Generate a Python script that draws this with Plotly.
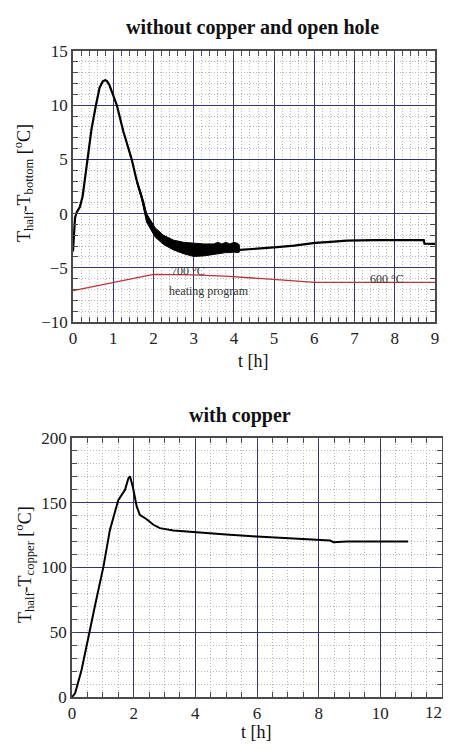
import plotly.graph_objects as go

# ---- top chart: without copper and open hole ----
t_top = [0.0, 0.02, 0.05, 0.09, 0.13, 0.17, 0.24, 0.30, 0.36, 0.46, 0.57, 0.66, 0.74, 0.80, 0.84, 0.90,
         0.97, 1.09, 1.25, 1.46, 1.58, 1.67, 1.75, 1.83, 2.04, 2.25, 2.5, 2.75, 3.0, 3.25, 3.5, 3.75,
         4.0, 4.15, 4.6, 5.07, 5.5, 6.02, 6.4, 6.8, 7.5, 8.0, 8.72, 8.74, 9.0]
v_top = [-3.5, -2.0, -0.4, 0.1, 0.35, 0.6, 1.6, 3.3, 5.0, 7.8, 10.0, 11.6, 12.2, 12.3, 12.25, 11.9,
         11.2, 10.0, 7.6, 5.0, 3.1, 2.0, 1.0, -0.4, -1.7, -2.4, -2.9, -3.2, -3.35, -3.35, -3.3, -3.25,
         -3.2, -3.35, -3.25, -3.1, -2.95, -2.7, -2.6, -2.5, -2.45, -2.45, -2.45, -2.78, -2.8]

t_band = [1.58, 1.70, 1.83, 2.04, 2.25, 2.5, 2.75, 3.0, 3.25, 3.5, 3.6, 3.7, 3.8, 3.9, 4.0, 4.1, 4.15]
band_hi = [3.2, 1.8, 0.0, -1.3, -2.0, -2.45, -2.65, -2.75, -2.8, -2.8, -2.65, -2.8, -2.65, -2.8, -2.65, -2.75, -2.95]
band_lo = [2.9, 1.4, -0.8, -2.15, -2.85, -3.35, -3.7, -3.95, -3.9, -3.75, -3.7, -3.65, -3.6, -3.6, -3.55, -3.6, -3.5]

t_prog = [0.0, 2.0, 3.0, 3.9, 4.9, 5.9, 6.0, 9.0]
v_prog = [-7.1, -5.6, -5.65, -5.8, -6.05, -6.3, -6.35, -6.35]

# ---- bottom chart: with copper ----
t_cu = [0.0, 0.1, 0.31, 0.58, 0.75, 1.02, 1.23, 1.5, 1.72, 1.83, 1.88, 1.97, 2.1, 2.2, 2.42, 2.64,
        2.85, 3.29, 3.93, 4.37, 5.0, 5.99, 7.0, 7.94, 8.37, 8.48, 8.9, 10.0, 10.9]
v_cu = [0.0, 2.8, 20.8, 50.0, 71.0, 100.7, 129.0, 152.0, 160.0, 169.0, 170.4, 162.5, 147.0, 140.6,
        137.3, 133.0, 130.4, 128.5, 127.3, 126.2, 125.5, 123.9, 122.6, 121.3, 120.8, 119.5, 120.0,
        120.0, 120.0]
x2_ticks = [0, 2, 4, 6, 8, 10, 12]

FONT = "Liberation Serif"
MAJOR = "#34346e"
MINOR = "#b8b8b8"

# the page body has an 8px margin: lay the figure out in window pixels,
# keeping the page no taller than the window (no scrollbar)
OFF = 8
W, H = 451 - OFF, 749 - 2 * OFF
def px(x):
    return (x - OFF) / W
def py(y):
    return 1 - (y - OFF) / H

fig = go.Figure()
fig.add_trace(go.Scatter(x=t_prog, y=v_prog, mode="lines", line=dict(color="#b83436", width=1.3),
                         xaxis="x", yaxis="y", showlegend=False))
fig.add_trace(go.Scatter(x=t_band, y=band_lo, mode="lines", line=dict(color="black", width=1),
                         xaxis="x", yaxis="y", showlegend=False))
fig.add_trace(go.Scatter(x=t_band, y=band_hi, mode="lines", line=dict(color="black", width=1),
                         fill="tonexty", fillcolor="black", xaxis="x", yaxis="y", showlegend=False))
fig.add_trace(go.Scatter(x=t_top, y=v_top, mode="lines", line=dict(color="black", width=2.2),
                         xaxis="x", yaxis="y", showlegend=False))
fig.add_trace(go.Scatter(x=t_cu, y=v_cu, mode="lines", line=dict(color="black", width=2),
                         xaxis="x2", yaxis="y2", showlegend=False))

TICKFONT = dict(family=FONT, size=17, color="#222222")

def ax(domain, rng, dtick, mdtick, anchor):
    return dict(domain=domain, range=rng, dtick=dtick, tick0=0, anchor=anchor, automargin=False,
                showline=True, linecolor="#4a4a4a", linewidth=1.5, mirror="ticks",
                ticks="inside", ticklen=5, tickcolor="#4a4a4a", ticklabeloverflow="allow",
                showgrid=True, gridcolor=MAJOR, gridwidth=1, zeroline=False,
                tickfont=TICKFONT,
                minor=dict(dtick=mdtick, tick0=0, showgrid=True, gridcolor=MINOR, griddash="1px,2px",
                           gridwidth=1, ticks="inside", ticklen=5, tickcolor="#4a4a4a"))

xa2 = ax([px(72), px(442)], [0, 12], 2, 0.5, "y2")
xa2.update(tickmode="array", tickvals=x2_ticks[:-1], ticktext=[str(v) for v in x2_ticks[:-1]])

fig.update_layout(
    width=W, height=H, margin=dict(l=0, r=0, t=0, b=0, autoexpand=False),
    paper_bgcolor="white", plot_bgcolor="white",
    xaxis=ax([px(73), px(435)], [0, 9], 1, 0.2, "y"),
    yaxis=ax([py(322), py(51)], [-10, 15], 5, 1, "x"),
    xaxis2=xa2,
    yaxis2=ax([py(697), py(438)], [0, 200], 50, 10, "x2"),
)

# last tick label of the bottom axis, kept inside the window edge
fig.add_annotation(text=str(x2_ticks[-1]), x=x2_ticks[-1], xref="x2", y=py(712), yref="paper",
                   xanchor="right", yanchor="middle", xshift=2, showarrow=False, font=TICKFONT)

ann = [
    dict(text="<b>without copper and open hole</b>", x=252, y=27, size=20, angle=0),
    dict(text="<b>with copper</b>", x=240, y=415, size=20, angle=0),
    dict(text="t [h]", x=254, y=361, size=18, angle=0),
    dict(text="t [h]", x=257, y=732, size=18, angle=0),
    dict(text="T<sub>half</sub>-T<sub>bottom</sub> [<sup>o</sup>C]", x=24, y=183, size=18, angle=-90),
    dict(text="T<sub>half</sub>-T<sub>copper</sub> [<sup>o</sup>C]", x=24, y=565, size=18, angle=-90),
]
for a in ann:
    fig.add_annotation(text=a["text"], x=px(a["x"]), y=py(a["y"]), xref="paper", yref="paper",
                       xanchor="center", yanchor="middle", showarrow=False, textangle=a["angle"],
                       font=dict(family=FONT, size=a["size"], color="#111111"))

for txt, x, y in [("700 °C", 2.85, -5.25), ("heating program", 3.37, -7.1), ("600 °C", 7.8, -6.05)]:
    fig.add_annotation(text=txt, x=x, y=y, xref="x", yref="y", showarrow=False,
                       xanchor="center", yanchor="middle",
                       font=dict(family=FONT, size=12, color="#333333"))

fig.write_html("out.html")
